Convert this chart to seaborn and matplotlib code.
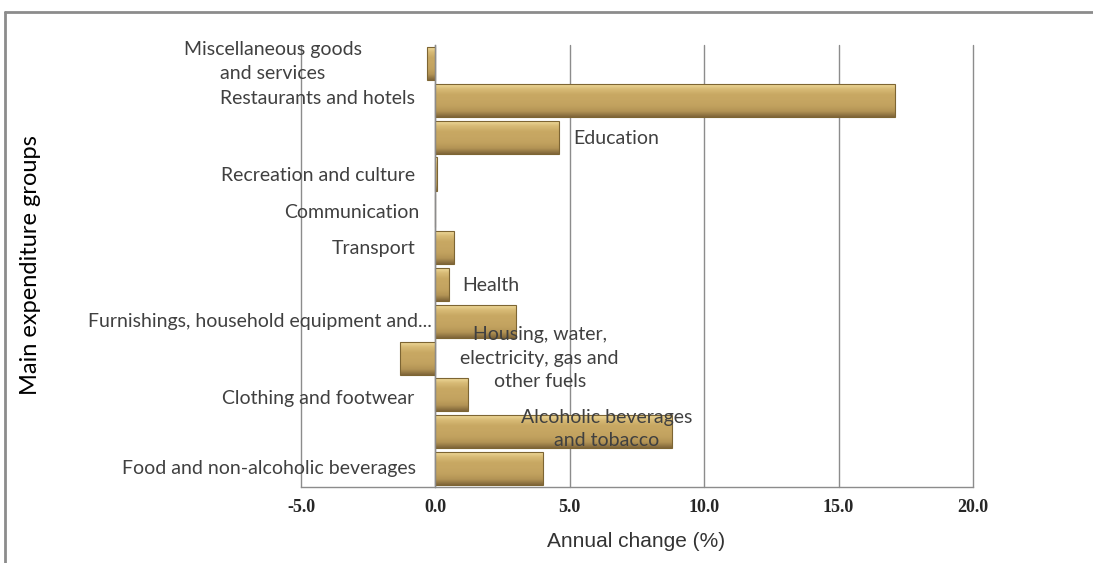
import numpy as np
import pandas as pd
import seaborn as sns
import matplotlib.pyplot as plt
from matplotlib.colors import LinearSegmentedColormap
from matplotlib.lines import Line2D

# categories, top to bottom as drawn
groups = [
    "Miscellaneous goods\nand services",
    "Restaurants and hotels",
    "Education",
    "Recreation and culture",
    "Communication",
    "Transport",
    "Health",
    "Furnishings, household equipment and...",
    "Housing, water,\nelectricity, gas and\nother fuels",
    "Clothing and footwear",
    "Alcoholic beverages\nand tobacco",
    "Food and non-alcoholic beverages",
]
annual_change = [-0.3, 17.1, 4.6, 0.05, 0.0, 0.7, 0.5, 3.0, -1.3, 1.2, 8.8, 4.0]
x_ticks = [-5.0, 0.0, 5.0, 10.0, 15.0, 20.0]

# where each category label sits (data x, data y offset, alignment)
label_layout = [
    (-6.05, -0.05, "center"),
    (-0.77, -0.05, "right"),
    (5.14, 0.05, "left"),
    (-0.77, 0.03, "right"),
    (-0.58, 0.04, "right"),
    (-0.73, 0.02, "right"),
    (1.01, 0.02, "left"),
    (-0.14, 0.0, "right"),
    (3.88, 0.0, "center"),
    (-0.77, 0.09, "right"),
    (6.37, -0.07, "center"),
    (-0.73, 0.0, "right"),
]

df = pd.DataFrame({"Group": groups, "Change": annual_change})

sns.set_theme(style="white")

fig = plt.figure(figsize=(10.93, 5.63), dpi=100)
ax = fig.add_axes([0.2754, 0.135, 0.6148, 0.785])

sns.barplot(df, x="Change", y="Group", orient="h", color="#C8A862",
            width=0.9, edgecolor="#7d6533", linewidth=0.8, ax=ax)

# gold gradient fill, clipped to each bar
gold = LinearSegmentedColormap.from_list(
    "gold", ["#f3dea0", "#d8bb76", "#c8a863", "#c6a662", "#c2a25f", "#b39455", "#80663a"])
grad = np.linspace(0, 1, 64).reshape(-1, 1)
for p in list(ax.patches):
    x0, y0, w, h = p.get_x(), p.get_y(), p.get_width(), p.get_height()
    if w == 0:
        continue
    im = ax.imshow(grad, cmap=gold, aspect="auto", interpolation="bilinear",
                   extent=[x0, x0 + w, y0 + h, y0], zorder=p.get_zorder())
    im.set_clip_path(p)
    p.set_facecolor("none")
    p.set_zorder(p.get_zorder() + 0.1)

ax.set_xlim(-5, 20)
ax.set_ylim(11.5, -0.5)
ax.set_xticks(x_ticks)
ax.set_xticklabels([f"{t:.1f}" for t in x_ticks],
                   fontfamily="Liberation Serif", fontweight="bold", fontsize=13)
ax.set_yticks(np.arange(-0.5, 12, 1))
ax.set_yticklabels([])
ax.set_xlabel("")
ax.set_ylabel("")

ax.grid(axis="x", color="#8c8c8c", lw=1)
for gl in ax.get_xgridlines():
    gl.set_clip_on(False)
ax.set_axisbelow(True)
for s in ["top", "right"]:
    ax.spines[s].set_visible(False)
ax.spines["left"].set_position(("data", 0))
for s in ["left", "bottom"]:
    ax.spines[s].set_color("#8c8c8c")
    ax.spines[s].set_linewidth(1)
    ax.spines[s].set_zorder(5)
ax.tick_params(axis="x", direction="out", length=5, color="#8c8c8c", pad=4)
ax.tick_params(axis="y", direction="out", length=4, color="#8c8c8c", pad=0)
ax.set_facecolor("white")

for i, (name, (lx, dy, ha)) in enumerate(zip(groups, label_layout)):
    ax.text(lx, i + dy, name, ha=ha, va="center", multialignment="center",
            fontfamily="Lato", fontsize=14, color="#404040", linespacing=1.45,
            zorder=6)

fig.text(0.028, 0.529, "Main expenditure groups", rotation=90, ha="center",
         va="center", fontfamily="Lato", fontsize=17, color="black")
fig.text(0.582, 0.039, "Annual change (%)", ha="center", va="center",
         fontfamily="Liberation Sans", fontsize=15, color="#333333")

# outer chart frame (top and left edges visible)
fig.add_artist(Line2D([0.0046, 1.0], [0.9787, 0.9787], color="#8c8c8c", lw=2))
fig.add_artist(Line2D([0.0046, 0.0046], [0.0, 0.9787], color="#8c8c8c", lw=2))

plt.savefig("out.png", dpi=100)
